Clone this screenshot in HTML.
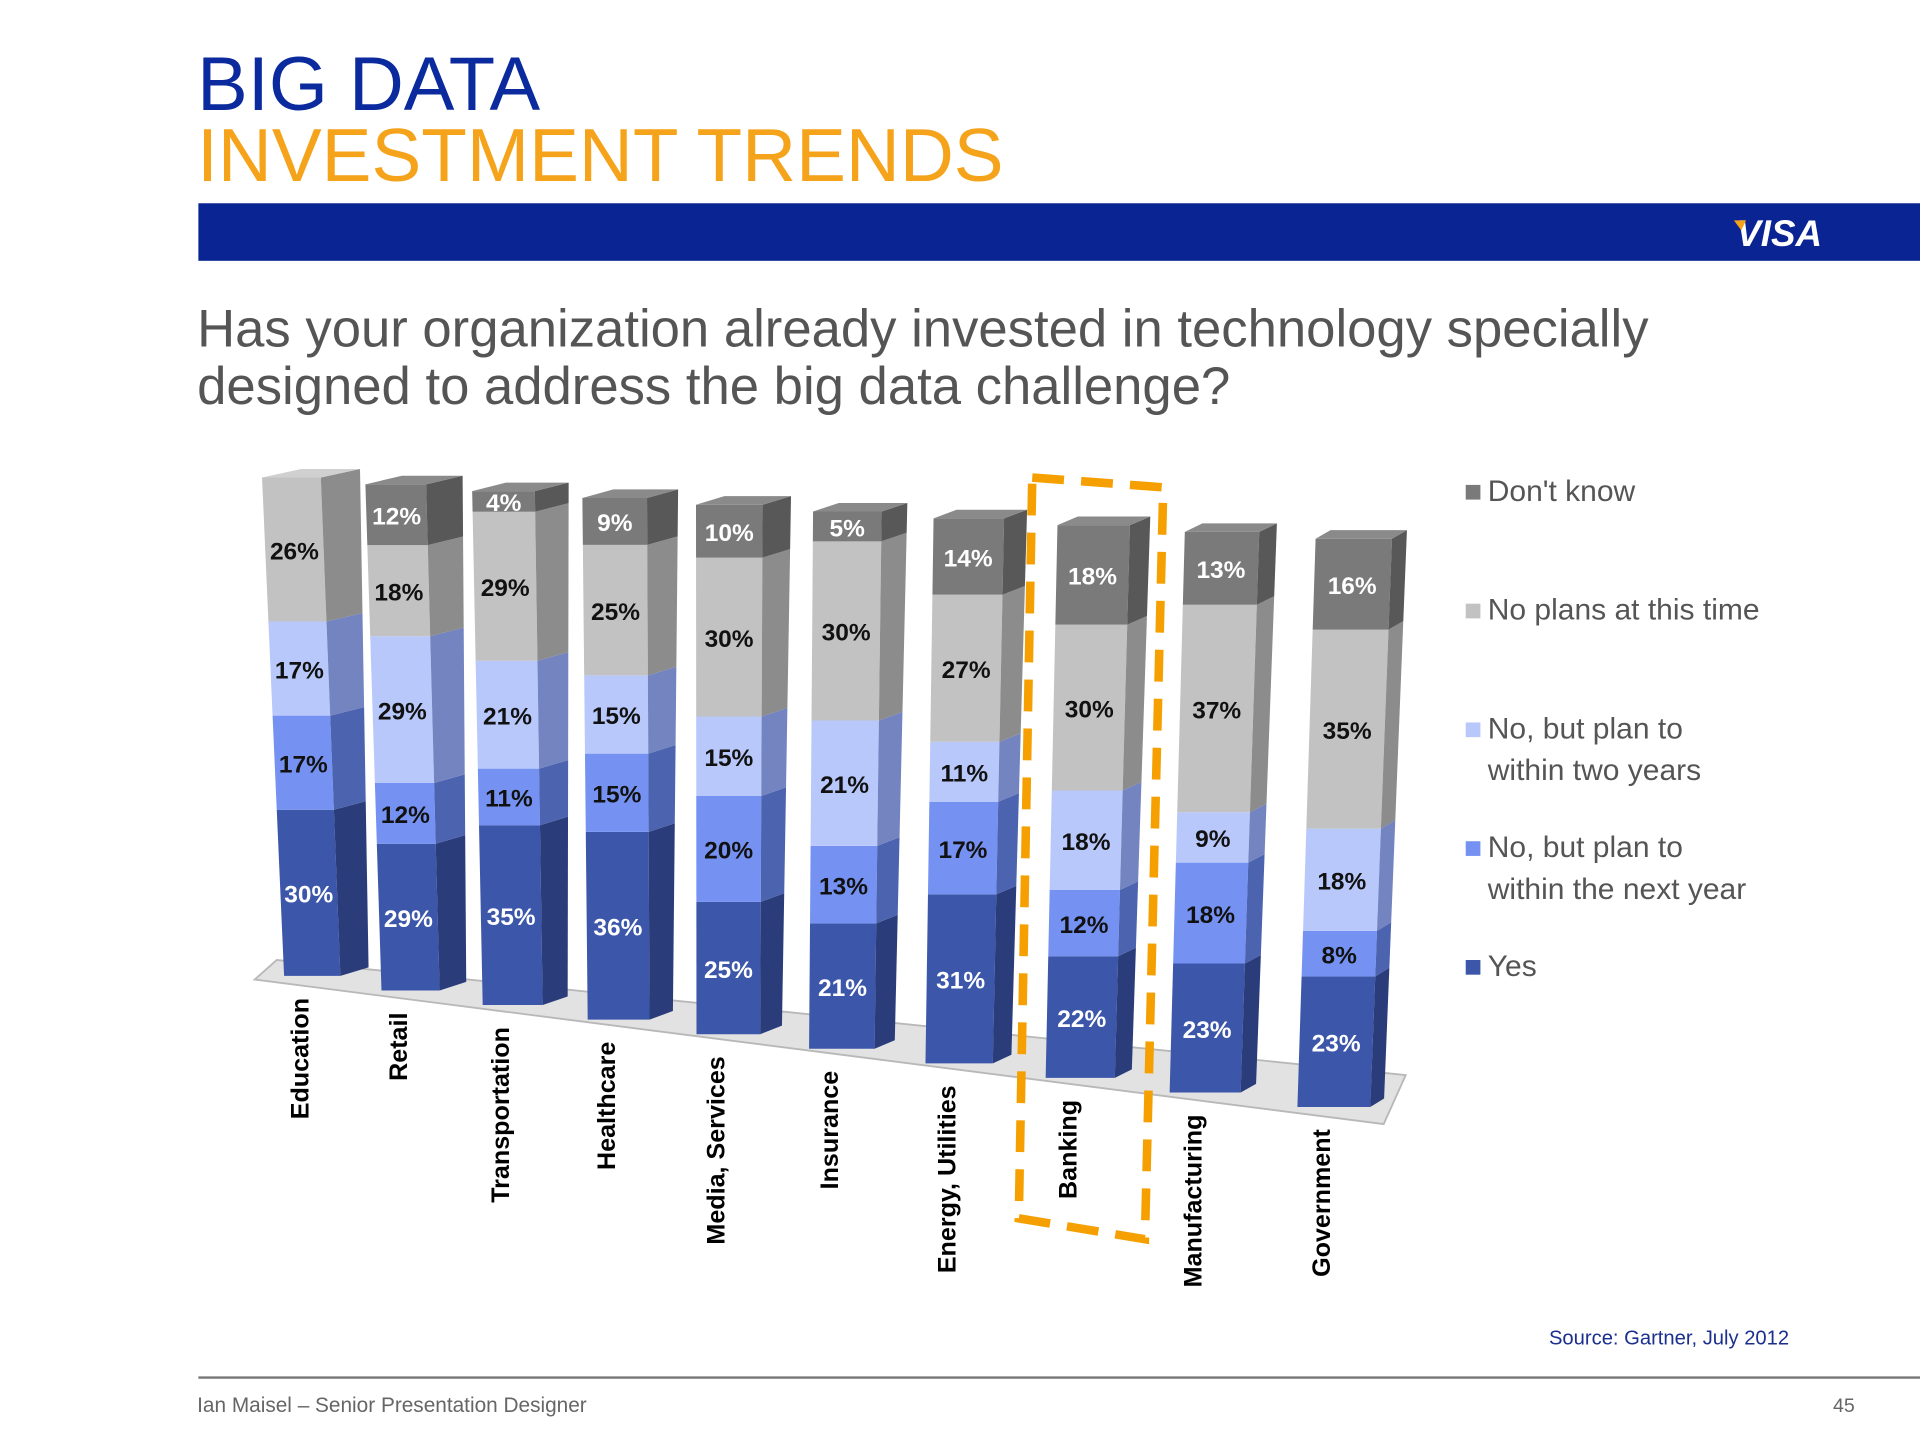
<!DOCTYPE html>
<html><head><meta charset="utf-8"><style>
html,body{margin:0;padding:0;background:#fff}
svg{display:block;font-family:"Liberation Sans",Arial,sans-serif}
</style></head><body>
<svg id="s" width="1920" height="1440" viewBox="0 0 1568 1176">
<text x="161" y="90" font-size="62" fill="#0b2a9e">BIG DATA</text>
<text x="161" y="148" font-size="61" fill="#f5a31a">INVESTMENT TRENDS</text>
<rect x="162" y="166" width="1406" height="47" fill="#0a2493"/>
<text x="1418" y="201" font-size="30" font-weight="bold" font-style="italic" fill="#fff">VISA</text>
<path d="M1416 180 l10 0 l-4 8z" fill="#f5a31a"/>
<text x="161" y="283" font-size="43" fill="#555">Has your organization already invested in technology specially</text>
<text x="161" y="330" font-size="43" fill="#555">designed to address the big data challenge?</text>
<polygon points="208,800 226,784 1148,878 1130,918" fill="#e2e2e2" stroke="#b8b8b8" stroke-width="1.5"/>
<g id="bars"></g>
<g id="cats"></g>
<polygon points="843,390 950,398 935,1012 832,995" fill="none" stroke="#f5a000" stroke-width="7" stroke-dasharray="26 14"/>
<g id="legend"></g>
<text x="1265" y="1098" font-size="16.5" fill="#1b2f8f">Source: Gartner, July 2012</text>
<line x1="162" y1="1125" x2="1568" y2="1125" stroke="#777" stroke-width="2"/>
<text x="161" y="1153" font-size="17" fill="#666">Ian Maisel – Senior Presentation Designer</text>
<text x="1497" y="1153" font-size="16" fill="#666">45</text>
</svg>
<script>
const categories=["Education","Retail","Transportation","Healthcare","Media, Services","Insurance","Energy, Utilities","Banking","Manufacturing","Government"];
const seriesNames=["Yes","No, but plan to within the next year","No, but plan to within two years","No plans at this time","Don't know"];
const yesVals=[30,29,35,36,25,21,31,22,23,23];
const nextYearVals=[17,12,11,15,20,13,17,12,18,8];
const twoYearsVals=[17,29,21,15,15,21,11,18,9,18];
const noPlansVals=[26,18,29,25,30,30,27,30,37,35];
const dontKnowVals=[0,12,4,9,10,5,14,18,13,16];
const series=[yesVals,nextYearVals,twoYearsVals,noPlansVals,dontKnowVals];
const front=["#3c57aa","#7592f2","#b8c8fb","#c2c2c2","#7a7a7a"];
const side=["#2a3d7a","#4c63b0","#7384c0","#8c8c8c","#585858"];
const topc=["#4a64b8","#8aa2f5","#c8d4fc","#d0d0d0","#8a8a8a"];
const lblc=["#fff","#111","#111","#111","#fff"];
const NS="http://www.w3.org/2000/svg";
function mk(t,a,p){const e=document.createElementNS(NS,t);for(const k in a)e.setAttribute(k,a[k]);p.appendChild(e);return e;}
// perspective axis functions
function topY(i){return 390+5.55*i;}
function botY(i){return 797+11.9*i;}
function leftTop(i){return 214+83*i+1.4*i*i;}
function leftBot(i){return 232+78*i+1.55*i*i;}
function wTop(i){return 48+1.6*i;}
function wBot(i){return 46+1.5*i;}
function sideTop(i){return 32-2.2*i;}
function sideBot(i){return 23-1.3*i;}
function pt(i,f,right){const l=leftBot(i)+(leftTop(i)-leftBot(i))*f;const w=wBot(i)+(wTop(i)-wBot(i))*f;const y=botY(i)+(topY(i)-botY(i))*f;return [right?l+w:l,y];}
function sd(i,f){return sideBot(i)+(sideTop(i)-sideBot(i))*f;}
const bars=document.getElementById('bars');
categories.forEach((c,i)=>{
  let total=0;series.forEach(s=>total+=s[i]);
  let cum=0,lastK=0;
  series.forEach((s,k)=>{
    const v=s[i];if(!v)return;
    const f0=cum/total,f1=(cum+v)/total;cum+=v;lastK=k;
    const a=pt(i,f0,false),b=pt(i,f0,true),cc=pt(i,f1,true),d=pt(i,f1,false);
    const p=mk('polygon',{points:[a,b,cc,d].map(q=>q.join(',')).join(' '),fill:front[k]},bars);
    
    
    const s0=sd(i,f0),s1=sd(i,f1);
    const sp=mk('polygon',{points:[b,[b[0]+s0,b[1]-7],[cc[0]+s1,cc[1]-7],cc].map(q=>q.join(',')).join(' '),fill:side[k]},bars);
    
    
    const t=mk('text',{x:(a[0]+b[0]+cc[0]+d[0])/4,y:(a[1]+d[1])/2+8,'font-size':20,'font-weight':'bold','text-anchor':'middle',fill:lblc[k]},bars);
    t.textContent=v+'%';
    
    
  });
  const tl=pt(i,1,false),tr=pt(i,1,true),st=sd(i,1);
  const tp=mk('polygon',{points:[tl,tr,[tr[0]+st,tr[1]-7],[tl[0]+st,tl[1]-7]].map(q=>q.join(',')).join(' '),fill:topc[lastK]},bars);
  
  
  const cats=document.getElementById('cats');
  const bl=pt(i,0,false);
  const cx=bl[0]+wBot(i)/2-3, cy=botY(i)+18;
  const ct=mk('text',{x:0,y:0,'font-size':20.5,'font-weight':'bold','text-anchor':'end',fill:'#000',transform:'translate('+(cx)+','+cy+') rotate(-90)'},cats);
  ct.textContent=c;
  
  
});
const leg=document.getElementById('legend');
const legendLines=[["Don't know"],["No plans at this time"],["No, but plan to","within two years"],["No, but plan to","within the next year"],["Yes"]];
const legendY=[405,502,599,696,793];
legendLines.forEach((ls,j)=>{
  const k=4-j;
  const r=mk('rect',{x:1197,y:legendY[j]-9,width:12,height:12,fill:front[k]},leg);
  
  
  ls.forEach((l,m)=>{
    const t=mk('text',{x:1215,y:legendY[j]+4+m*34,'font-size':24.5,fill:'#555'},leg);
    t.textContent=l;
    
    
  });
});
</script>
</body></html>
